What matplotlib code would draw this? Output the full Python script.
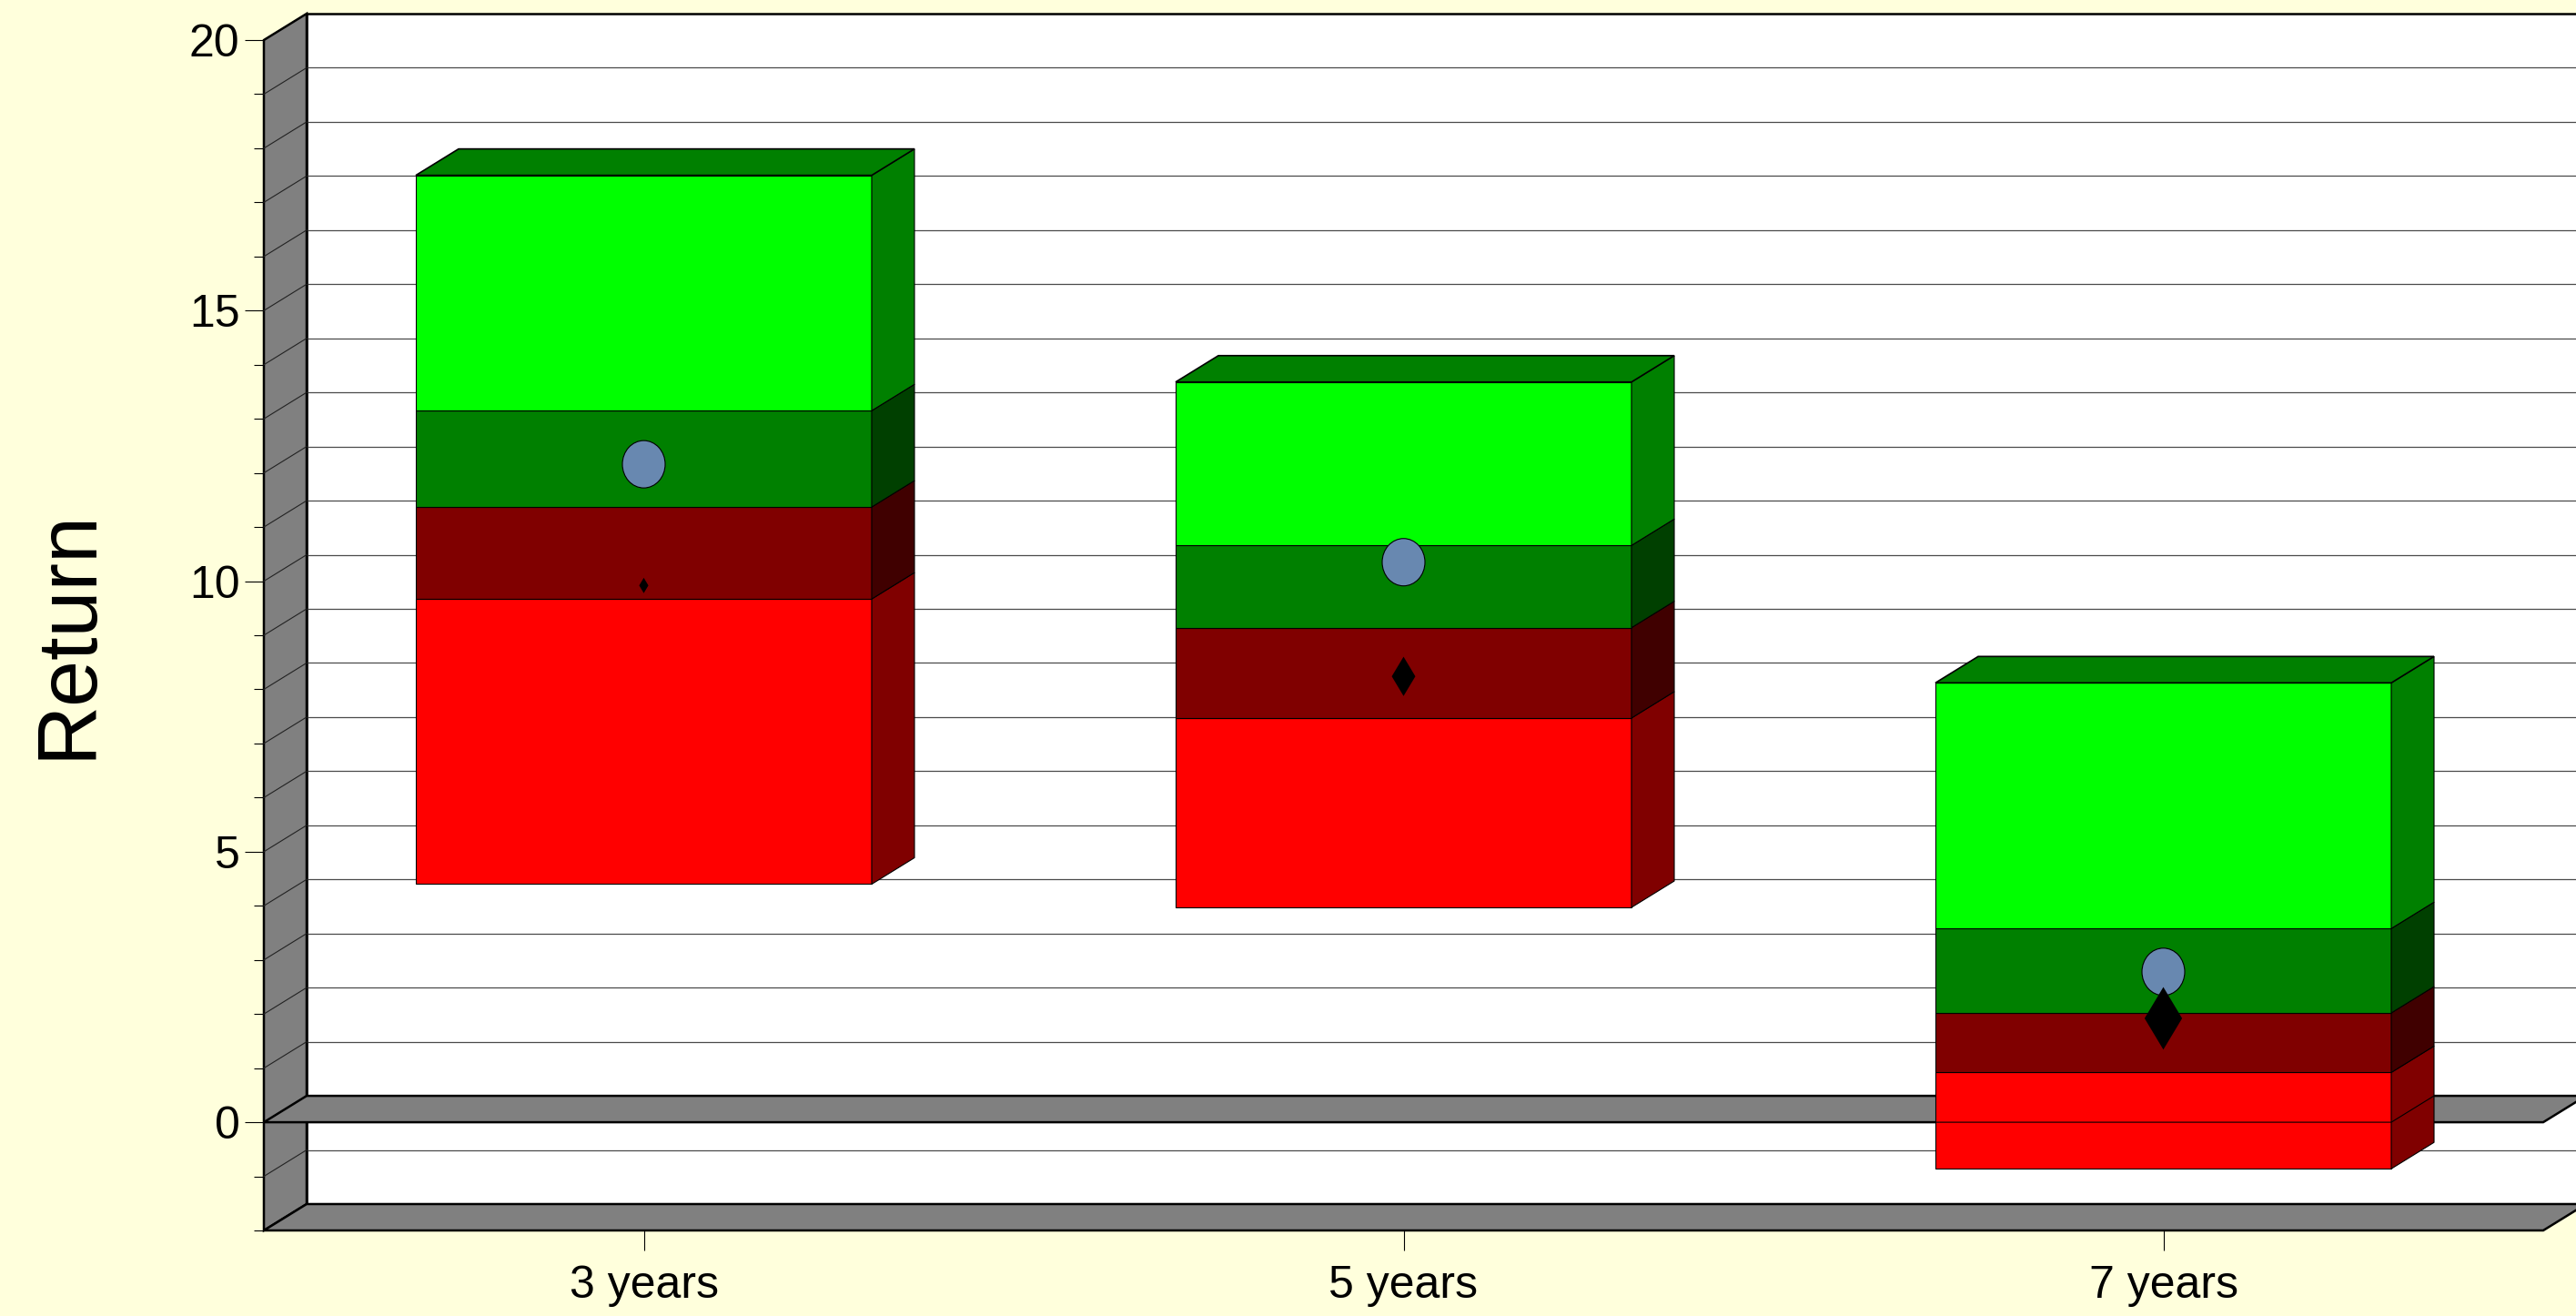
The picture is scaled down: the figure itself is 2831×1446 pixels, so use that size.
import matplotlib
matplotlib.use("Agg")
import matplotlib.pyplot as plt
from matplotlib.patches import Polygon, Rectangle, Ellipse
from matplotlib.ticker import MultipleLocator

categories = ["3 years", "5 years", "7 years"]
low = [4.4, 3.97, -0.86]
q1 = [9.67, 7.47, 0.92]
median = [11.37, 9.14, 2.02]
q3 = [13.15, 10.66, 3.58]
high = [17.5, 13.68, 8.12]
mean_circle = [12.16, 10.35, 2.78]
mean_diamond = [9.92, 8.24, 1.92]
diamond_size = [8.6, 22, 35]

W, H = 2831, 1446
BG = "#FFFFDC"
GREY = "#808080"

plt.rcParams["font.family"] = ["Liberation Sans", "DejaVu Sans"]

fig = plt.figure(figsize=(W / 100, H / 100), dpi=100, facecolor=BG)
ax = fig.add_axes([290 / W, (H - 1352) / H, 2505 / W, 1308 / H])
ax.set_xlim(-0.5, 2.5)
ax.set_ylim(-2, 20)
ax.patch.set_visible(False)
for s in ax.spines.values():
    s.set_visible(False)

# 3d offset of the back wall
dx = 47 / 835
dy = 29 / 59.45
x0, x1 = -0.5, 2.5
y0, y1 = -2, 20


def para(pts, color, lw=1.8, z=1):
    ax.add_patch(Polygon(pts, closed=True, facecolor=color, edgecolor="black",
                         linewidth=lw, zorder=z, clip_on=False))


# walls
para([(x0 + dx, y0 + dy), (x1 + dx, y0 + dy), (x1 + dx, y1 + dy), (x0 + dx, y1 + dy)], "white", z=1)
for v in range(y0 + 1, y1):
    ax.plot([x0 + dx, x1 + dx], [v + dy, v + dy], color="#4a4a4a", lw=0.9, zorder=1.5, clip_on=False)
para([(x0, y0), (x0 + dx, y0 + dy), (x0 + dx, y1 + dy), (x0, y1)], GREY, z=2)
for v in range(y0 + 1, y1):
    ax.plot([x0, x0 + dx], [v, v + dy], color="#222222", lw=0.8, zorder=2.5, clip_on=False)
para([(x0, y0), (x1, y0), (x1 + dx, y0 + dy), (x0 + dx, y0 + dy)], GREY, z=3)
para([(x0, 0), (x1, 0), (x1 + dx, dy), (x0 + dx, dy)], GREY, z=3)

# stacked boxes
bar_w = 0.6
front_colors = ["#FF0000", "#800000", "#008000", "#00FF00"]
side_colors = ["#800000", "#400000", "#004000", "#008000"]
for i in range(len(categories)):
    edges = [low[i], q1[i], median[i], q3[i], high[i]]
    left = i - bar_w / 2
    right = i + bar_w / 2
    for k in range(4):
        a, b = edges[k], edges[k + 1]
        ax.add_patch(Rectangle((left, a), bar_w, b - a, facecolor=front_colors[k],
                               edgecolor="black", linewidth=0.8, zorder=4, clip_on=False))
        para([(right, a), (right + dx, a + dy), (right + dx, b + dy), (right, b)],
             side_colors[k], lw=0.8, z=4)
    para([(left, high[i]), (right, high[i]), (right + dx, high[i] + dy), (left + dx, high[i] + dy)],
         "#008000", lw=1.2, z=4)
    if low[i] < 0:
        ax.plot([left, right, right + dx], [0, 0, dy], color="black", lw=0.8, zorder=5, clip_on=False)

# means
for i in range(len(categories)):
    ax.add_patch(Ellipse((i, mean_circle[i]), 47 / 835, 52 / 59.45, facecolor="#6888B0",
                         edgecolor="black", linewidth=0.8, zorder=6))
ax.scatter(range(len(categories)), mean_diamond, marker="d",
           s=[d ** 2 for d in diamond_size], color="black", linewidths=0, zorder=7)

# axes
ax.set_xticks(range(len(categories)))
ax.set_xticklabels(categories)
ax.yaxis.set_major_locator(MultipleLocator(5))
ax.yaxis.set_minor_locator(MultipleLocator(1))
ax.tick_params(axis="y", which="major", length=15, width=0.8, labelsize=36, pad=4)
ax.tick_params(axis="y", which="minor", length=8, width=0.8)
ax.tick_params(axis="x", length=16, width=0.8, labelsize=36, pad=11)
ax.set_ylabel("Return", fontsize=66, va="center")
ax.yaxis.set_label_coords((76 - 290) / 2505, (1352 - 696) / 1308)

fig.savefig("out.png", dpi=100, facecolor=BG)
